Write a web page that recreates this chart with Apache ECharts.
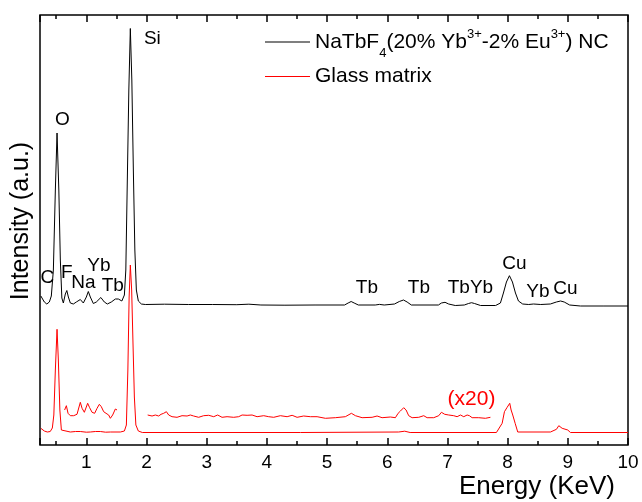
<!DOCTYPE html>
<html><head><meta charset="utf-8">
<script src="https://cdn.jsdelivr.net/npm/echarts@6/dist/echarts.min.js"></script>
<style>html,body{margin:0;padding:0;background:#fff}#c{width:642px;height:502px}</style>
</head><body><div id="c"></div>
<script>
// ---- data (energy keV, intensity a.u.) ----
const ncName = 'NaTbF4(20% Yb3+-2% Eu3+) NC';
const glassName = 'Glass matrix';
const xTickLabels = [1,2,3,4,5,6,7,8,9,10];

const ncSpectrum = [
 [0.244,149],[0.302,143],[0.343,141],[0.385,143],[0.418,149],[0.452,175],[0.485,255],[0.513,312],[0.543,255],[0.568,185],
 [0.593,147],[0.618,142],[0.651,151],[0.676,154.5],[0.701,148],[0.734,142],[0.784,141],[0.834,143],[0.900,145.5],[0.950,142],
 [1.0,148],[1.033,153.5],[1.066,148],[1.116,141.5],[1.166,143],[1.241,147.5],[1.299,143],[1.349,141],[1.415,143],[1.482,146],
 [1.532,146],[1.590,144],[1.632,150],[1.656,175],[1.681,265],[1.706,355],[1.731,416.5],[1.756,365],[1.781,275],[1.806,195],
 [1.831,155],[1.864,144],[1.914,141],[1.98,140.5],[2.3,140.8],[2.7,140.5],[3.1,140.5],[3.5,140.3],[3.7,140.8],[3.9,140],
 [4.3,139.8],[4.8,140],[5.29,140],[5.35,142],[5.40,143.5],[5.45,142],[5.52,140],[5.80,140],[5.87,140.6],[5.95,140],
 [6.12,141],[6.20,143.5],[6.27,145],[6.33,143],[6.40,140],[6.85,140],[6.90,142],[6.96,142.7],[7.02,141],[7.13,139.5],
 [7.28,140],[7.35,141.5],[7.40,142.3],[7.45,141.5],[7.55,139.5],[7.80,139.5],[7.88,142],[7.93,152],[7.98,163],[8.03,169.3],
 [8.08,163],[8.13,152],[8.18,144],[8.25,141],[8.35,140.5],[8.43,141],[8.55,140.5],[8.71,141],[8.81,143],[8.88,144],
 [8.94,143],[9.03,140],[9.21,139],[9.6,139],[10,139]
];

const glassSpectrum = [
 [0.244,16.7],[0.302,14],[0.352,13],[0.40,13.5],[0.435,17],[0.46,30],[0.485,75],[0.513,115.7],[0.535,85],[0.56,35],
 [0.585,15],[0.618,13],[0.734,13],[0.82,13.5],[0.90,13.5],[1.0,12.8],[1.066,13],[1.15,13.5],[1.233,13.5],[1.32,12.8],
 [1.40,13],[1.565,13],[1.632,14],[1.665,20],[1.69,75],[1.711,148],[1.731,180],[1.753,155],[1.776,100],[1.798,48],
 [1.823,20],[1.864,14],[1.93,12.5],[2.89,12.5],[4.56,12.5],[6.19,13],[6.29,13.8],[6.38,12.5],[7.814,12.5],[7.909,21.7],
 [7.947,33.3],[7.992,37.7],[8.035,41.7],[8.058,35],[8.085,30],[8.125,21.7],[8.168,13],[8.712,13],[8.811,15.7],[8.850,19.3],
 [8.906,16.7],[8.999,15],[9.044,12.5],[10,12.5]
];

const glassX20Low = [
 [0.639,35],[0.668,39.3],[0.696,31.7],[0.734,29.3],[0.789,29.3],[0.845,30.7],[0.900,42.7],[0.929,36.7],[0.967,32.7],[1.022,41.7],
 [1.055,37.3],[1.095,32.7],[1.138,31.7],[1.178,36.7],[1.216,40.7],[1.249,38.3],[1.288,33.3],[1.327,31.7],[1.371,30],[1.399,26.7],
 [1.437,30],[1.470,30.7],[1.482,36],[1.510,35]
];

const glassX20High = [
 [2.019,30],[2.092,29],[2.147,30],[2.202,29],[2.241,30.7],[2.285,31.7],[2.330,33.3],[2.368,30],[2.424,28.3],[2.507,27.7],
 [2.590,29.3],[2.674,29],[2.728,30],[2.783,29],[2.866,27.7],[2.949,29.3],[3.033,29.7],[3.116,28.3],[3.182,30],[3.255,27.7],
 [3.338,28.3],[3.448,27.7],[3.531,28.3],[3.588,30],[3.671,29.7],[3.754,30],[3.837,28.3],[3.947,29.3],[4.030,28.3],[4.113,27.7],
 [4.224,29.3],[4.336,28.3],[4.419,29.7],[4.502,27.7],[4.611,29],[4.723,28.3],[4.834,28.3],[4.972,26.7],[5.138,27.3],[5.304,28.3],
 [5.404,31.7],[5.471,29.3],[5.582,27.3],[5.748,27.7],[5.831,29],[5.914,27.3],[6.052,28],[6.135,27.3],[6.180,31.7],[6.219,34],
 [6.273,37.3],[6.313,35],[6.356,29.3],[6.413,27.3],[6.523,27.7],[6.606,29.3],[6.662,27.3],[6.772,27.3],[6.855,29.3],[6.900,32.7],
 [6.955,30.7],[7.021,30],[7.104,29.3],[7.161,28.3],[7.216,30],[7.271,28.3],[7.327,30],[7.365,29.3],[7.410,27.3],[7.520,27.3],
 [7.631,26.7],[7.714,27.7]
];

const peakNames   = ['Si','O','C','F','Na','Yb','Tb','Tb','Tb','TbYb','Cu','Yb','Cu'];
const peakAnchors = [[2.097,406],[0.601,325],[0.352,167],[0.676,172],[0.950,162],[1.208,179],[1.440,159],
                     [5.662,157],[6.526,157],[7.382,157],[8.113,181],[8.504,153],[8.961,156]];
const magnifyNote = '(x20)';
const magnifyAnchor = [7.399,46];

// ---- chart ----
const FONT = '"Liberation Sans", Arial, sans-serif';
const X_MIN = 0.23, X_MAX = 10;
const chart = echarts.init(document.getElementById('c'), null, {renderer:'canvas'});

function xAxisDef(pos, step, tickLen, labels) {
  return {
    type:'value', position:pos, min:X_MIN, max:X_MAX, minInterval:step, maxInterval:step, splitNumber:20,
    axisLine:{show:false}, splitLine:{show:false},
    axisTick:{show:true, inside:true, length:tickLen, lineStyle:{color:'#000', width:1.5}},
    axisLabel:{show:labels, color:'#000', fontSize:19, fontFamily:FONT, margin:8,
      formatter: v => xTickLabels.indexOf(Math.round(v)) >= 0 && Math.abs(v-Math.round(v))<1e-6 ? String(Math.round(v)) : ''}
  };
}
const xMain = xAxisDef('bottom', 1, 7, true);
xMain.name = 'Energy (KeV)';
xMain.nameLocation = 'end';
xMain.nameGap = -13;
xMain.nameMoveOverlap = false;
xMain.nameTextStyle = {fontSize:26, color:'#000', fontFamily:FONT, align:'right', verticalAlign:'top', padding:[29,0,0,0]};

const legendText = {
  fontSize:21, color:'#000', fontFamily:FONT,
  rich:{
    n:{fontSize:21, color:'#000', fontFamily:FONT},
    sub:{fontSize:13, color:'#000', fontFamily:FONT, padding:[22,0,0,0]},
    sup:{fontSize:13, color:'#000', fontFamily:FONT, padding:[0,0,15,0]}
  }
};
const legendFmt = name => name === ncName ? '{n|NaTbF}{sub|4}{n|(20% Yb}{sup|3+}{n|-2% Eu}{sup|3+}{n|) NC}' : name;
const legendBase = {left:260, itemWidth:45, itemHeight:1.2, icon:'rect', itemGap:0, formatter:legendFmt, textStyle:legendText, selectedMode:false};

chart.setOption({
  animation:false,
  backgroundColor:'#fff',
  grid:{left:40, right:14, top:15, bottom:57, show:true, borderColor:'#000', borderWidth:1.5, outerBoundsMode:'none'},
  xAxis:[ xMain, xAxisDef('bottom', 0.5, 4, false), xAxisDef('top', 1, 7, false), xAxisDef('top', 0.5, 4, false) ],
  yAxis:{type:'value', min:0, max:430, axisLine:{show:false}, axisTick:{show:false}, axisLabel:{show:false}, splitLine:{show:false},
    name:'Intensity (a.u.)', nameLocation:'middle', nameGap:6, nameMoveOverlap:false,
    nameTextStyle:{fontSize:25, color:'#000', fontFamily:FONT, padding:[0,0,0,18]}},
  legend:[
    Object.assign({data:[ncName], top:23}, legendBase),
    Object.assign({data:[glassName], top:61}, legendBase)
  ],
  series:[
    {name:ncName, type:'line', data:ncSpectrum, symbol:'none', lineStyle:{color:'#000', width:1}, itemStyle:{color:'#000'}, silent:true},
    {name:glassName, type:'line', data:glassSpectrum, symbol:'none', lineStyle:{color:'#ff0000', width:1}, itemStyle:{color:'#ff0000'}, silent:true},
    {name:'x20 low', type:'line', data:glassX20Low, symbol:'none', lineStyle:{color:'#ff0000', width:1}, silent:true},
    {name:'x20 high', type:'line', data:glassX20High, symbol:'none', lineStyle:{color:'#ff0000', width:1}, silent:true},
    {name:'peaks', type:'scatter', symbolSize:1, itemStyle:{color:'rgba(0,0,0,0)', opacity:1}, silent:true,
      data: peakAnchors.map((c,i)=>({name:peakNames[i], value:c})),
      label:{show:true, position:'inside', formatter:'{b}', color:'#000', opacity:1, fontSize:19, fontFamily:FONT}},
    {name:'note', type:'scatter', symbolSize:1, itemStyle:{color:'rgba(0,0,0,0)', opacity:1}, silent:true,
      data:[{name:magnifyNote, value:magnifyAnchor}],
      label:{show:true, position:'inside', formatter:'{b}', color:'#ff0000', opacity:1, fontSize:21, fontFamily:FONT}}
  ]
});
</script></body></html>
